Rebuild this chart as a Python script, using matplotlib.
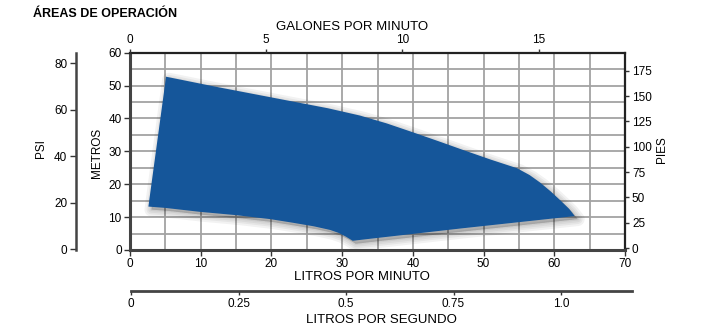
import matplotlib
matplotlib.use("Agg")
import matplotlib.pyplot as plt
import matplotlib.transforms as mtransforms

regular = ['Liberation Sans', 'DejaVu Sans']
plt.rcParams['font.family'] = regular

# operating area outline (litros por minuto, metros)
area_lpm = [2.6, 5.1, 12.0, 20.0, 28.0, 32.5, 36.3, 40.0, 44.0, 47.0, 51.0,
            54.7, 56.5, 58.0, 59.5, 61.0, 62.1, 62.9,
            47.0, 33.9, 31.5, 30.5, 29.5, 28.3, 26.0, 23.0, 19.8, 15.0, 9.9, 5.0]
area_m = [13.2, 52.7, 49.7, 46.4, 43.1, 40.9, 38.5, 35.8, 32.8, 30.5, 27.5,
          24.9, 22.8, 20.5, 17.8, 14.8, 12.5, 10.3,
          6.6, 3.4, 2.8, 4.1, 5.2, 6.1, 7.2, 8.3, 9.4, 10.6, 11.6, 12.8]

metros_ticks = [0, 10, 20, 30, 40, 50, 60]
lpm_ticks = [0, 10, 20, 30, 40, 50, 60, 70]
gpm_ticks = [0, 5, 10, 15]
psi_ticks = [0, 20, 40, 60, 80]
pies_ticks = [0, 25, 50, 75, 100, 125, 150, 175]
lps_ticks = [0, 0.25, 0.5, 0.75, 1.0]
lps_labels = ['0', '0.25', '0.5', '0.75', '1.0']

blue = '#15569a'
dark = '#333333'
fs = 8.5

fig = plt.figure(figsize=(7.17, 3.32), dpi=100)
W, H = 717, 332
ax = fig.add_axes([130 / W, 1 - 250 / H, 495 / W, 197.3 / H])
ax.set_xlim(0, 70)
ax.set_ylim(0, 60)

# grid
for x in range(5, 70, 5):
    ax.axvline(x, color='#a3a3a3', lw=1.3, zorder=1)
for y in range(5, 60, 5):
    ax.axhline(y, color='#a3a3a3', lw=1.3, zorder=1)

# soft shadow
off = mtransforms.offset_copy(ax.transData, fig=fig, x=3, y=-3, units='dots')
for lw in [10, 7, 4.5, 2]:
    ax.fill(area_lpm, area_m, facecolor=(0, 0, 0, 0.05), edgecolor=(0, 0, 0, 0.05),
            lw=lw, transform=off, zorder=2, joinstyle='round')
ax.fill(area_lpm, area_m, color=blue, lw=0, zorder=3)

ax.set_xticks(lpm_ticks)
ax.set_yticks(metros_ticks)
ax.tick_params(labelsize=fs, length=4, width=1, color=dark, pad=2)
for s in ['left', 'bottom']:
    ax.spines[s].set_linewidth(2.2)
    ax.spines[s].set_color('#444444')
for s in ['top', 'right']:
    ax.spines[s].set_linewidth(1.6)
    ax.spines[s].set_color('#222222')
ax.spines['bottom'].set_zorder(5)
ax.set_xlabel('LITROS POR MINUTO', fontsize=9.5)
ax.xaxis.set_label_coords((362 - 130) / 495, (250 - 270.5) / 197.3)
ax.set_ylabel('METROS', fontsize=fs)
ax.yaxis.set_label_coords((103 - 130) / 495, (250 - 153) / 197.3)

# top axis: galones por minuto
axt = ax.twiny()
axt.set_xlim(0.055, 18.17)
axt.set_xticks(gpm_ticks)
axt.tick_params(labelsize=fs, length=3, width=1, color=dark, pad=2)
axt.set_xlabel('GALONES POR MINUTO', fontsize=9.5)
axt.xaxis.set_label_coords((352 - 130) / 495, (250 - 29.5) / 197.3)
for s in axt.spines.values():
    s.set_visible(False)

# right axis: pies
axr = ax.twinx()
axr.set_ylim(-1.97, 192.8)
axr.set_yticks(pies_ticks)
axr.tick_params(labelsize=fs, length=3, width=1, color=dark, pad=2)
axr.set_ylabel('PIES', fontsize=fs)
axr.yaxis.set_label_coords((656 - 130) / 495, (250 - 150) / 197.3)
for s in axr.spines.values():
    s.set_visible(False)

# left outer axis: psi
axp = ax.twinx()
axp.set_ylim(-0.43, 84.6)
axp.set_yticks(psi_ticks)
axp.yaxis.set_ticks_position('left')
axp.yaxis.set_label_position('left')
for s in axp.spines.values():
    s.set_visible(False)
axp.spines['left'].set_visible(True)
axp.spines['left'].set_position(('axes', (75.7 - 130) / 495))
axp.spines['left'].set_linewidth(1.8)
axp.spines['left'].set_color('#444444')
axp.tick_params(labelsize=fs, length=4, width=1, color=dark, pad=2)
axp.set_ylabel('PSI', fontsize=fs)
axp.yaxis.set_label_coords((47 - 130) / 495, (250 - 149) / 197.3)

# bottom axis: litros por segundo
axs = fig.add_axes([131 / W, 1 - 291 / H, 501 / W, 0.0001])
axs.set_xlim(0, 1.165)
axs.set_yticks([])
axs.set_xticks(lps_ticks, lps_labels)
for s in ['left', 'right', 'top']:
    axs.spines[s].set_visible(False)
axs.spines['bottom'].set_linewidth(2)
axs.spines['bottom'].set_color('#444444')
axs.tick_params(labelsize=fs, length=3, width=1, color=dark, pad=2)
axs.set_xlabel('LITROS POR SEGUNDO', fontsize=9.5, labelpad=3)
axs.patch.set_visible(False)

fig.text(33 / W, 1 - 14 / H, 'ÁREAS DE OPERACIÓN', fontsize=9, fontweight='bold',
         ha='left', va='center')

fig.savefig('out.png', dpi=100)
